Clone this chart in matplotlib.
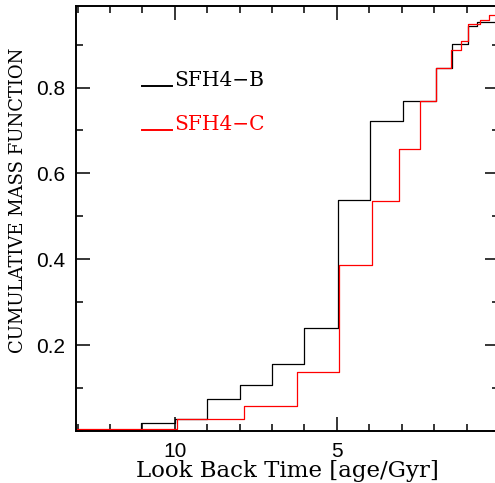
import matplotlib
matplotlib.use("Agg")
import matplotlib.pyplot as plt
from matplotlib.ticker import MultipleLocator

# SFH4-B: look back time of each step (Gyr) and cumulative mass after the step
age_b = [13.1, 11.03, 10.0, 9.02, 8.0, 7.0, 6.0, 4.98, 3.98, 2.96, 1.94, 1.45, 0.95, 0.69, 0.06, 0.0]
cmf_b = [0.003, 0.019, 0.029, 0.074, 0.107, 0.156, 0.241, 0.538, 0.722, 0.769, 0.846, 0.902, 0.943, 0.952, 0.972, 0.972]

# SFH4-C
age_c = [13.1, 9.93, 7.86, 6.23, 4.93, 3.91, 3.09, 2.44, 1.94, 1.49, 1.18, 0.94, 0.59, 0.31, 0.05, 0.0]
cmf_c = [0.004, 0.027, 0.058, 0.138, 0.386, 0.536, 0.657, 0.769, 0.846, 0.887, 0.909, 0.949, 0.957, 0.970, 0.980, 0.980]

fig = plt.figure(figsize=(4.95, 4.83), dpi=100)
ax = fig.add_axes([0.1535, 0.1077, 1.008 - 0.1535, 0.9876 - 0.1077])

ax.step(age_b, cmf_b, where="post", color="black", lw=0.9)
ax.step(age_c, cmf_c, where="post", color="#ff0000", lw=0.9)

ax.set_xlim(13.05, 0)
ax.set_ylim(0, 0.99)
ax.set_xticks([10, 5])
ax.xaxis.set_minor_locator(MultipleLocator(1))
ax.set_yticks([0.2, 0.4, 0.6, 0.8])
ax.yaxis.set_minor_locator(MultipleLocator(0.1))
ax.tick_params(which="both", direction="in", top=True, right=True, width=1.1,
               labelsize=15, pad=8)
ax.tick_params(which="major", length=10)
ax.tick_params(which="minor", length=5)
for lab in ax.get_xticklabels() + ax.get_yticklabels():
    lab.set_family("Liberation Sans")
for s in ax.spines.values():
    s.set_linewidth(1.4)

ax.set_xlabel("Look Back Time [age/Gyr]", family="DejaVu Serif", fontsize=16.5, labelpad=-1)
ax.set_ylabel("CUMULATIVE MASS FUNCTION", family="DejaVu Serif", fontsize=13)
ax.yaxis.set_label_coords(-0.116, 0.543)

# legend drawn by hand like the original
ax.plot([11.02, 10.09], [0.803, 0.803], color="black", lw=1.4)
ax.text(10.02, 0.803, "SFH4\u2212B", family="DejaVu Serif", fontsize=14.5, color="black", va="baseline")
ax.plot([11.02, 10.09], [0.702, 0.702], color="#ff0000", lw=1.4)
ax.text(10.02, 0.702, "SFH4\u2212C", family="DejaVu Serif", fontsize=14.5, color="#ff0000", va="baseline")

fig.savefig("out.png", dpi=100)
